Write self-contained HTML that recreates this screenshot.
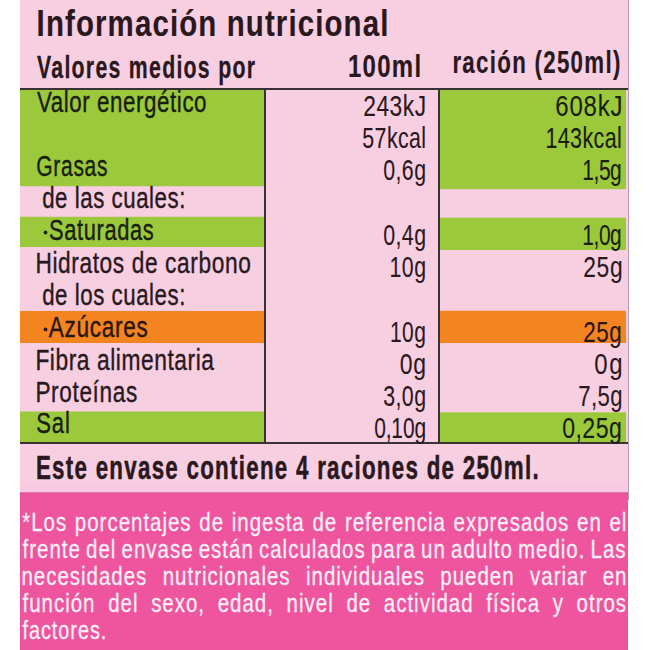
<!DOCTYPE html>
<html><head><meta charset="utf-8"><style>
html,body{margin:0;padding:0;background:#fff;width:650px;height:650px;overflow:hidden}
svg{display:block}
text{font-family:"Liberation Sans",sans-serif}
</style></head><body>
<svg width="650" height="650" viewBox="0 0 650 650">
<rect x="20" y="0" width="608" height="492.5" fill="#f7cfe1"/>
<rect x="20" y="482" width="608" height="10.5" fill="#f9c9e1"/>
<rect x="20" y="492.5" width="608" height="157.5" fill="#ee559e"/>
<rect x="20" y="492.5" width="608" height="1.5" fill="#d95b99"/>
<rect x="20" y="90" width="244" height="96.2" fill="#9cc93c"/>
<rect x="20" y="216.8" width="244" height="30.2" fill="#9cc93c"/>
<rect x="20" y="311" width="244" height="32" fill="#f4841f"/>
<rect x="20" y="411.5" width="244" height="30.5" fill="#9cc93c"/>
<rect x="440" y="90" width="186" height="99.2" fill="#9cc93c"/>
<rect x="440" y="217.7" width="186" height="32.3" fill="#9cc93c"/>
<rect x="440" y="310.8" width="186" height="32.2" fill="#f4841f"/>
<rect x="440" y="412.3" width="186" height="29.7" fill="#9cc93c"/>
<rect x="20" y="88" width="608" height="2" fill="#3a3232"/>
<rect x="20" y="442" width="608" height="2" fill="#3a3232"/>
<rect x="264" y="88" width="2" height="356" fill="#3a3232"/>
<rect x="438" y="88" width="2" height="356" fill="#3a3232"/>
<rect x="628" y="0" width="1" height="500" fill="#b59aab"/>
<circle cx="45.5" cy="232.5" r="1.9" fill="#17200d"/>
<circle cx="45.5" cy="329.4" r="1.9" fill="#2a1610"/>
<text transform="translate(36.60,36.00) scale(0.7851,1)" font-size="37.5" font-weight="700" fill="#2a1821" stroke="#2a1821" stroke-width="0.15" textLength="448.07" lengthAdjust="spacing">Información nutricional</text>
<text transform="translate(37.00,77.60) scale(0.6646,1)" font-size="32" font-weight="700" fill="#2a1821" stroke="#2a1821" stroke-width="0.3" textLength="328.02" lengthAdjust="spacing">Valores medios por</text>
<text transform="translate(347.94,76.50) scale(0.7736,1)" font-size="31" font-weight="700" fill="#2a1821" stroke="#2a1821" stroke-width="0.15" textLength="94.52" lengthAdjust="spacing">100ml</text>
<text transform="translate(452.40,73.20) scale(0.7075,1)" font-size="31.5" font-weight="700" fill="#2a1821" stroke="#2a1821" stroke-width="0.2" textLength="237.33" lengthAdjust="spacing">ración (250ml)</text>
<text transform="translate(37.00,112.20) scale(0.7448,1)" font-size="30" font-weight="400" fill="#17200d" stroke="#17200d" stroke-width="0.4" textLength="227.63" lengthAdjust="spacing">Valor energético</text>
<text transform="translate(36.20,176.20) scale(0.7008,1)" font-size="30" font-weight="400" fill="#17200d" stroke="#17200d" stroke-width="0.4" textLength="101.79" lengthAdjust="spacing">Grasas</text>
<text transform="translate(42.20,208.20) scale(0.7416,1)" font-size="30" font-weight="400" fill="#2a1821" stroke="#2a1821" stroke-width="0.4" textLength="193.11" lengthAdjust="spacing">de las cuales:</text>
<text transform="translate(48.90,240.20) scale(0.7287,1)" font-size="30" font-weight="400" fill="#17200d" stroke="#17200d" stroke-width="0.4" textLength="143.96" lengthAdjust="spacing">Saturadas</text>
<text transform="translate(35.40,272.80) scale(0.7574,1)" font-size="30" font-weight="400" fill="#2a1821" stroke="#2a1821" stroke-width="0.4" textLength="284.39" lengthAdjust="spacing">Hidratos de carbono</text>
<text transform="translate(42.20,304.60) scale(0.7416,1)" font-size="30" font-weight="400" fill="#2a1821" stroke="#2a1821" stroke-width="0.4" textLength="193.11" lengthAdjust="spacing">de los cuales:</text>
<text transform="translate(48.80,337.00) scale(0.7513,1)" font-size="30" font-weight="400" fill="#2a1610" stroke="#2a1610" stroke-width="0.4" textLength="131.64" lengthAdjust="spacing">Azúcares</text>
<text transform="translate(35.40,369.50) scale(0.7592,1)" font-size="30" font-weight="400" fill="#2a1821" stroke="#2a1821" stroke-width="0.4" textLength="235.18" lengthAdjust="spacing">Fibra alimentaria</text>
<text transform="translate(35.40,401.50) scale(0.7535,1)" font-size="30" font-weight="400" fill="#2a1821" stroke="#2a1821" stroke-width="0.4" textLength="135.18" lengthAdjust="spacing">Proteínas</text>
<text transform="translate(36.20,433.00) scale(0.7362,1)" font-size="30" font-weight="400" fill="#17200d" stroke="#17200d" stroke-width="0.4" textLength="45.64" lengthAdjust="spacing">Sal</text>
<text transform="translate(363.32,116.00) scale(0.7601,1)" font-size="30" font-weight="400" fill="#2a1821" stroke="#2a1821" stroke-width="0.1" textLength="82.54" lengthAdjust="spacing">243kJ</text>
<text transform="translate(362.36,148.22) scale(0.7125,1)" font-size="30" font-weight="400" fill="#2a1821" stroke="#2a1821" stroke-width="0.1" textLength="89.40" lengthAdjust="spacing">57kcal</text>
<text transform="translate(383.16,180.44) scale(0.7127,1)" font-size="30" font-weight="400" fill="#2a1821" stroke="#2a1821" stroke-width="0.1" textLength="60.20" lengthAdjust="spacing">0,6g</text>
<text transform="translate(383.20,244.88) scale(0.7120,1)" font-size="30" font-weight="400" fill="#2a1821" stroke="#2a1821" stroke-width="0.1" textLength="60.20" lengthAdjust="spacing">0,4g</text>
<text transform="translate(389.40,277.10) scale(0.7103,1)" font-size="30" font-weight="400" fill="#2a1821" stroke="#2a1821" stroke-width="0.1" textLength="51.61" lengthAdjust="spacing">10g</text>
<text transform="translate(389.90,341.54) scale(0.7006,1)" font-size="30" font-weight="400" fill="#2a1821" stroke="#2a1821" stroke-width="0.1" textLength="51.61" lengthAdjust="spacing">10g</text>
<text transform="translate(399.70,373.76) scale(0.7661,1)" font-size="30" font-weight="400" fill="#2a1821" stroke="#2a1821" stroke-width="0.1" textLength="34.41" lengthAdjust="spacing">0g</text>
<text transform="translate(383.20,405.98) scale(0.7120,1)" font-size="30" font-weight="400" fill="#2a1821" stroke="#2a1821" stroke-width="0.1" textLength="60.20" lengthAdjust="spacing">3,0g</text>
<text transform="translate(374.20,438.20) scale(0.7000,1)" font-size="30" font-weight="400" fill="#2a1821" stroke="#2a1821" stroke-width="0.1" textLength="74.09" lengthAdjust="spacing">0,10g</text>
<text transform="translate(555.20,116.00) scale(0.8000,1)" font-size="30" font-weight="400" fill="#17200d" stroke="#17200d" stroke-width="0.1" textLength="84.25" lengthAdjust="spacing">608kJ</text>
<text transform="translate(545.40,148.22) scale(0.7167,1)" font-size="30" font-weight="400" fill="#17200d" stroke="#17200d" stroke-width="0.1" textLength="106.60" lengthAdjust="spacing">143kcal</text>
<text transform="translate(582.36,180.44) scale(0.7000,1)" font-size="30" font-weight="400" fill="#17200d" stroke="#17200d" stroke-width="0.1" textLength="56.34" lengthAdjust="spacing">1,5g</text>
<text transform="translate(582.36,244.88) scale(0.7000,1)" font-size="30" font-weight="400" fill="#17200d" stroke="#17200d" stroke-width="0.1" textLength="56.34" lengthAdjust="spacing">1,0g</text>
<text transform="translate(583.32,277.10) scale(0.7611,1)" font-size="30" font-weight="400" fill="#2a1821" stroke="#2a1821" stroke-width="0.1" textLength="51.61" lengthAdjust="spacing">25g</text>
<text transform="translate(583.16,341.54) scale(0.7487,1)" font-size="30" font-weight="400" fill="#2a1610" stroke="#2a1610" stroke-width="0.1" textLength="51.61" lengthAdjust="spacing">25g</text>
<text transform="translate(594.28,373.76) scale(0.8000,1)" font-size="30" font-weight="400" fill="#2a1821" stroke="#2a1821" stroke-width="0.1" textLength="35.40" lengthAdjust="spacing">0g</text>
<text transform="translate(578.24,405.98) scale(0.7369,1)" font-size="30" font-weight="400" fill="#2a1821" stroke="#2a1821" stroke-width="0.1" textLength="60.20" lengthAdjust="spacing">7,5g</text>
<text transform="translate(562.20,438.20) scale(0.7700,1)" font-size="30" font-weight="400" fill="#17200d" stroke="#17200d" stroke-width="0.1" textLength="77.40" lengthAdjust="spacing">0,25g</text>
<text transform="translate(35.94,478.50) scale(0.6776,1)" font-size="33" font-weight="700" fill="#2a1821" stroke="#2a1821" stroke-width="0.5" textLength="741.86" lengthAdjust="spacing">Este envase contiene 4 raciones de 250ml.</text>
<text transform="translate(22.20,531.30) scale(0.7800,1)" font-size="26.2" font-weight="400" fill="#fdeff6" stroke="#fdeff6" stroke-width="0.3" style="letter-spacing:1.3px;word-spacing:1.304px">*Los porcentajes de ingesta de referencia expresados en el</text>
<text transform="translate(22.50,558.20) scale(0.7800,1)" font-size="26.2" font-weight="400" fill="#fdeff6" stroke="#fdeff6" stroke-width="0.3" style="letter-spacing:1.3px;word-spacing:-1.875px">frente del envase están calculados para un adulto medio. Las</text>
<text transform="translate(21.40,585.20) scale(0.7800,1)" font-size="26.2" font-weight="400" fill="#fdeff6" stroke="#fdeff6" stroke-width="0.3" style="letter-spacing:1.3px;word-spacing:11.225px">necesidades nutricionales individuales pueden variar en</text>
<text transform="translate(22.50,612.00) scale(0.7800,1)" font-size="26.2" font-weight="400" fill="#fdeff6" stroke="#fdeff6" stroke-width="0.3" style="letter-spacing:1.3px;word-spacing:7.694px">función del sexo, edad, nivel de actividad física y otros</text>
<text transform="translate(22.50,638.80) scale(0.7564,1)" font-size="26.2" font-weight="400" fill="#fdeff6" stroke="#fdeff6" stroke-width="0.3" style="letter-spacing:1.3px">factores.</text>
</svg>
</body></html>
